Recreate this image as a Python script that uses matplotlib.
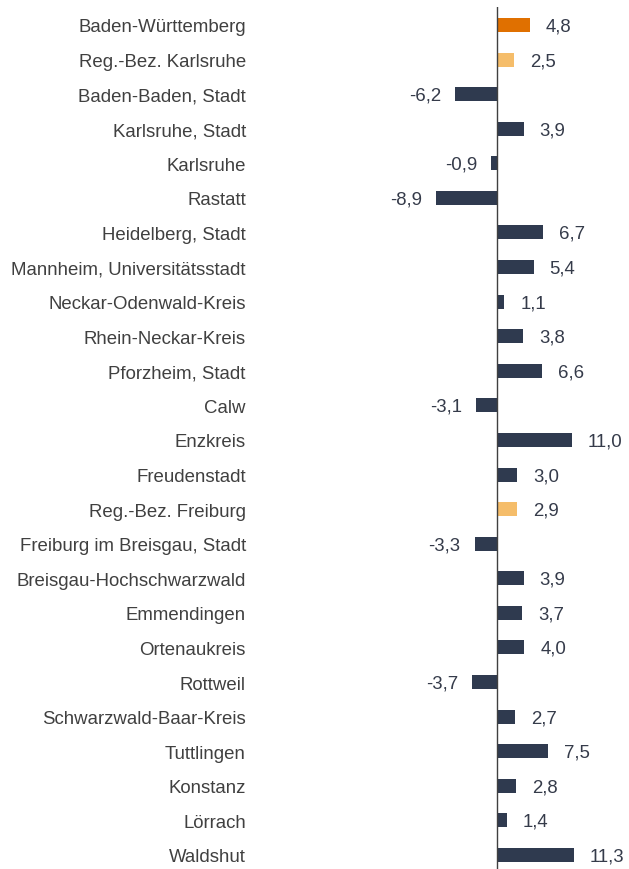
import matplotlib
matplotlib.use("Agg")
import matplotlib.pyplot as plt

regions = [
    "Baden-Württemberg", "Reg.-Bez. Karlsruhe", "Baden-Baden, Stadt", "Karlsruhe, Stadt",
    "Karlsruhe", "Rastatt", "Heidelberg, Stadt", "Mannheim, Universitätsstadt",
    "Neckar-Odenwald-Kreis", "Rhein-Neckar-Kreis", "Pforzheim, Stadt", "Calw",
    "Enzkreis", "Freudenstadt", "Reg.-Bez. Freiburg", "Freiburg im Breisgau, Stadt",
    "Breisgau-Hochschwarzwald", "Emmendingen", "Ortenaukreis", "Rottweil",
    "Schwarzwald-Baar-Kreis", "Tuttlingen", "Konstanz", "Lörrach", "Waldshut",
]
changes = [4.8, 2.5, -6.2, 3.9, -0.9, -8.9, 6.7, 5.4, 1.1, 3.8, 6.6, -3.1, 11.0,
           3.0, 2.9, -3.3, 3.9, 3.7, 4.0, -3.7, 2.7, 7.5, 2.8, 1.4, 11.3]
level = ["land", "bezirk"] + ["kreis"] * 12 + ["bezirk"] + ["kreis"] * 10

palette = {"land": "#e07000", "bezirk": "#f5bd6a", "kreis": "#2f3a4f"}
label_color = "#404040"
value_color = "#353b4a"
plt.rcParams["font.family"] = ["Liberation Sans", "DejaVu Sans"]

fig = plt.figure(figsize=(6.29, 8.70), dpi=100)
ax = fig.add_axes([400 / 629, 0, 229 / 629, 862 / 870])

ypos = list(range(len(regions)))
ax.barh(ypos, changes, height=0.405, color=[palette[l] for l in level])

ax.set_xlim(-97 / 6.8, 132 / 6.8)
ax.set_ylim(24.405, -0.52)

for y, v in zip(ypos, changes):
    txt = f"{v:.1f}".replace(".", ",")
    if v >= 0:
        ax.annotate(txt, (v, y), xytext=(11.5, -0.7), textcoords="offset points",
                    ha="left", va="center", fontsize=13.4, color=value_color)
    else:
        ax.annotate(txt, (v, y), xytext=(-10, -0.7), textcoords="offset points",
                    ha="right", va="center", fontsize=13.4, color=value_color)

ax.set_yticks(ypos)
ax.set_yticklabels(regions, fontsize=13.4, color=label_color)
ax.tick_params(axis="y", length=0, pad=111)
ax.set_xticks([])
for side in ["top", "right", "bottom", "left"]:
    ax.spines[side].set_visible(False)
ax.axvline(0, color="#404040", linewidth=1)

fig.savefig("out.png", dpi=100)
